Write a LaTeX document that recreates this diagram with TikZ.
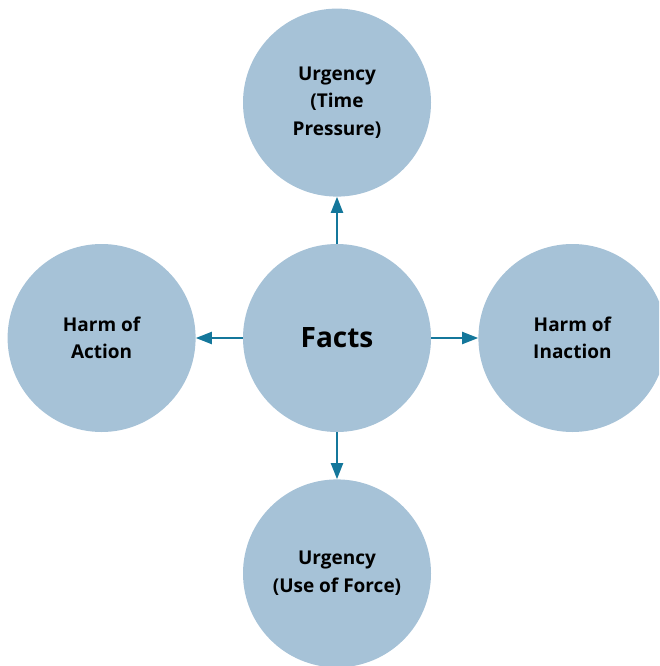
\documentclass[tikz,border=0pt]{standalone}
\usepackage{fontspec}
\setmainfont{Open Sans}
\usepackage{xcolor}
\usetikzlibrary{positioning,arrows.meta}
\definecolor{bubble}{HTML}{A6C2D7}
\definecolor{link}{HTML}{14779B}
\tikzset{
topic/.style={circle, fill=bubble, minimum size=188pt, inner sep=0pt, align=center,
  font=\bfseries\fontsize{19}{27.5}\selectfont},
link/.style={draw=link, line width=2pt, -{Triangle[length=16pt,width=12pt]}}
}

\begin{document}
\begin{tikzpicture}[x=1pt,y=-1pt]
\clip (0,0) rectangle (659,666);
\node[topic, font=\bfseries\fontsize{28}{32}\selectfont] (facts) at (337,338) {Facts};
\node[topic, above=47pt of facts] (time) {Urgency\\(Time\\Pressure)};
\node[topic, left=47pt of facts] (action) {Harm of\\Action};
\node[topic, right=47pt of facts] (inaction) {Harm of\\Inaction};
\node[topic, below=47pt of facts] (force) {Urgency\\(Use of Force)};

\draw[link] (facts) -- (time);
\draw[link] (facts) -- (action);
\draw[link] (facts) -- (inaction);
\draw[link] (facts) -- (force);
\end{tikzpicture}
\end{document}
